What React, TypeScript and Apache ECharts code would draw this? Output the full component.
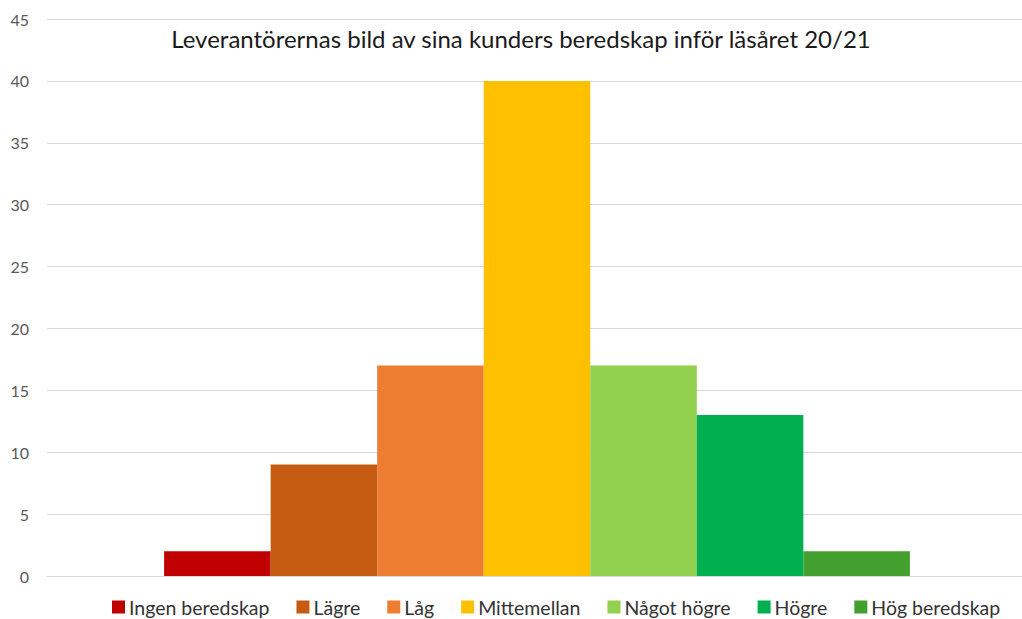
import React, { useEffect, useRef } from "react";
import * as echarts from "echarts";

const categories = [""];
const seriesNames = [
  "Ingen beredskap",
  "Lägre",
  "Låg",
  "Mittemellan",
  "Något högre",
  "Högre",
  "Hög beredskap",
];
const seriesValues = [2, 9, 17, 40, 17, 13, 2];
const seriesColors = [
  "#C00000",
  "#C55A11",
  "#ED7D31",
  "#FFC000",
  "#92D050",
  "#00B050",
  "#43A02F",
];
const titleText = "Leverantörernas bild av sina kunders beredskap inför läsåret 20/21";

export default function App() {
  const ref = useRef<HTMLDivElement>(null);
  useEffect(() => {
    document.body.style.margin = "0";
    if (!ref.current) return;
    const chart = echarts.init(ref.current, null, { renderer: "svg" });
    const font = "Lato, 'Open Sans', sans-serif";
    chart.setOption({
      animation: false,
      backgroundColor: "#ffffff",
      title: {
        text: titleText,
        left: 521,
        textAlign: "center",
        top: 26,
        padding: 0,
        textStyle: {
          fontFamily: font,
          fontSize: 24,
          fontWeight: "normal",
          color: "#1a1a1a",
        },
      },
      legend: {
        top: 597,
        left: 112,
        padding: 0,
        itemWidth: 13,
        itemHeight: 13,
        itemGap: 27,
        icon: "rect",
        textStyle: { fontFamily: font, fontSize: 19.5, color: "#333333", padding: [0, 0, 0, -1] },
        data: seriesNames,
      },
      grid: { left: 47, top: 19, width: 980, height: 557 },
      xAxis: {
        type: "category",
        data: categories,
        axisLine: { show: true, lineStyle: { color: "#d9d9d9" } },
        axisTick: { show: false },
        axisLabel: { show: false },
      },
      yAxis: {
        type: "value",
        min: 0,
        max: 45,
        interval: 5,
        axisLine: { show: false },
        axisTick: { show: false },
        axisLabel: { fontFamily: font, fontSize: 16, color: "#595959", margin: 18 },
        splitLine: { lineStyle: { color: "#d9d9d9" } },
      },
      series: seriesNames.map((name, i) => ({
        name,
        type: "bar",
        data: [seriesValues[i]],
        itemStyle: { color: seriesColors[i] },
        barGap: "0%",
        barCategoryGap: "23.9%",
      })),
    });
    return () => chart.dispose();
  }, []);
  return (
    <div style={{ width: 1022, height: 619, overflow: "hidden", position: "relative" }}>
      <div ref={ref} style={{ width: 1040, height: 619 }} />
    </div>
  );
}
